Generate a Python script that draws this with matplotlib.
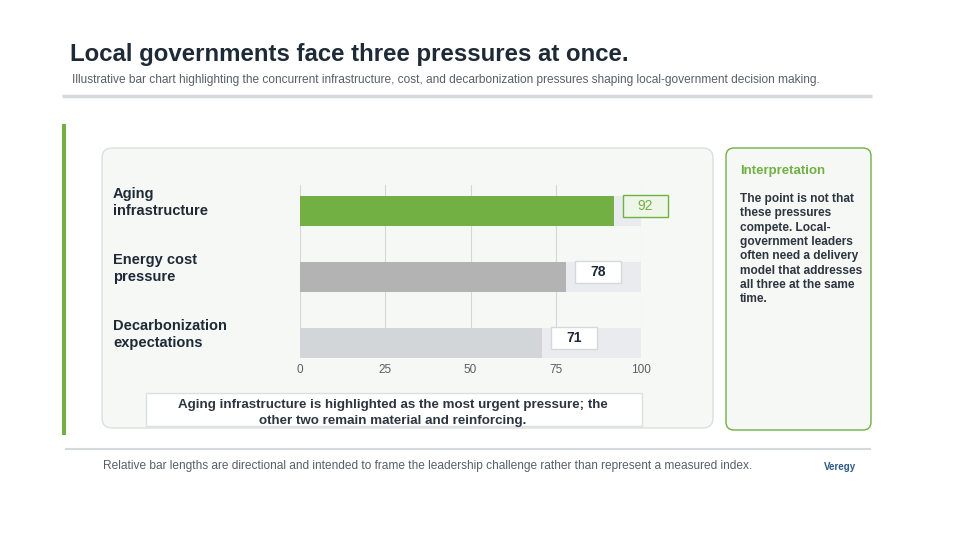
import matplotlib.pyplot as plt
from matplotlib.patches import FancyBboxPatch, Rectangle

plt.rcParams['font.family'] = ['Liberation Sans', 'DejaVu Sans']

# data
categories = ['Aging\ninfrastructure', 'Energy cost\npressure', 'Decarbonization\nexpectations']
values = [92, 78, 71]
bar_colors = ['#72b043', '#b3b3b3', '#d3d6d9']
ticks = [0, 25, 50, 75, 100]

title = 'Local governments face three pressures at once.'
subtitle = ('Illustrative bar chart highlighting the concurrent infrastructure, cost, and '
            'decarbonization pressures shaping local-government decision making.')
callout = ('Aging infrastructure is highlighted as the most urgent pressure; the\n'
           'other two remain material and reinforcing.')
interp_title = 'Interpretation'
interp_lines = ['The point is not that', 'these pressures', 'compete. Local-',
                'government leaders', 'often need a delivery', 'model that addresses',
                'all three at the same', 'time.']
footer = ('Relative bar lengths are directional and intended to frame the leadership '
          'challenge rather than represent a measured index.')
brand = 'Veregy'

GREEN = '#72b043'
DARK = '#1f2a37'
W, H = 960, 540

fig = plt.figure(figsize=(9.6, 5.4), dpi=100)
fig.patch.set_facecolor('white')

# background layer in pixel coords
bg = fig.add_axes([0, 0, 1, 1])
bg.set_xlim(0, W)
bg.set_ylim(H, 0)
bg.axis('off')

bg.text(70, 55, title, fontsize=17.3, fontweight='bold', color=DARK, va='center')
bg.text(72, 80, subtitle, fontsize=8.6, color='#5a5f66', va='center')
bg.plot([62, 872], [96, 96], color='#d5d8dc', lw=2.5, solid_capstyle='butt')

# green accent bar
bg.add_patch(Rectangle((62, 124), 4, 311, color=GREEN, lw=0))

# chart panel
bg.add_patch(FancyBboxPatch((102, 148), 611, 280, boxstyle='round,pad=0,rounding_size=10',
                            facecolor='#f6f8f5', edgecolor='#dcdfe0', lw=1))
# interpretation panel
bg.add_patch(FancyBboxPatch((726, 148), 145, 282, boxstyle='round,pad=0,rounding_size=8',
                            facecolor='#f6f8f5', edgecolor=GREEN, lw=1))
bg.text(740, 171, interp_title, fontsize=9.5, fontweight='bold', color=GREEN, va='center')
for k, line in enumerate(interp_lines):
    bg.text(740, 199 + k * 14.3, line, fontsize=8.6, fontweight='bold', color='#2d3540',
            va='center')

# callout box
bg.add_patch(Rectangle((146, 393), 496, 33, facecolor='white', edgecolor='#dcdfe0', lw=1))
bg.text(393, 413, callout, fontsize=9.6, fontweight='bold', color='#2d3540',
        ha='center', va='center', linespacing=1.38)

# footer
bg.plot([66, 870], [449, 449], color='#d5d8dc', lw=1.5)
bg.text(103, 466, footer, fontsize=8.6, color='#5a5f66', va='center')
bg.text(824, 467, brand, fontsize=7, fontweight='bold', color='#2e5a88', va='center')

# bar chart
ax = fig.add_axes([300 / W, 1 - 358 / H, 341 / W, 173 / H])
ax.set_facecolor('none')
ax.set_xlim(0, 100)
ax.set_ylim(2.227, -0.394)
for s in ax.spines.values():
    s.set_visible(False)
ax.set_xticks(ticks)
ax.set_xticklabels([str(t) for t in ticks], fontsize=8.5, color='#5a5f66')
ax.tick_params(axis='x', length=0, pad=4)
ax.set_yticks([])
ax.grid(axis='x', color='#d6d6d6', lw=0.8, zorder=0)
ax.set_axisbelow(True)

pos = list(range(len(values)))
bh = 0.455
ax.barh(pos, [100] * len(values), height=bh, color='#e9ebee', zorder=1)
ax.barh(pos, values, height=bh, color=bar_colors, zorder=2)

for i, (v, cat) in enumerate(zip(values, categories)):
    ax.text(-54.8, i - 0.13, cat, fontsize=10.5, fontweight='bold', color=DARK,
            ha='left', va='center', linespacing=1.25)
    hl = i == 0
    ax.add_patch(Rectangle((v + 2.6, i - 0.25), 13.4, 0.34, clip_on=False, zorder=3,
                           facecolor='#eef6e8' if hl else 'white',
                           edgecolor=GREEN if hl else '#d5d8dc', lw=1))
    ax.text(v + 9.3, i - 0.08, str(v), fontsize=10, fontweight='normal' if hl else 'bold',
            color=GREEN if hl else DARK, ha='center', va='center', zorder=4)

fig.savefig('out.png', dpi=100)
